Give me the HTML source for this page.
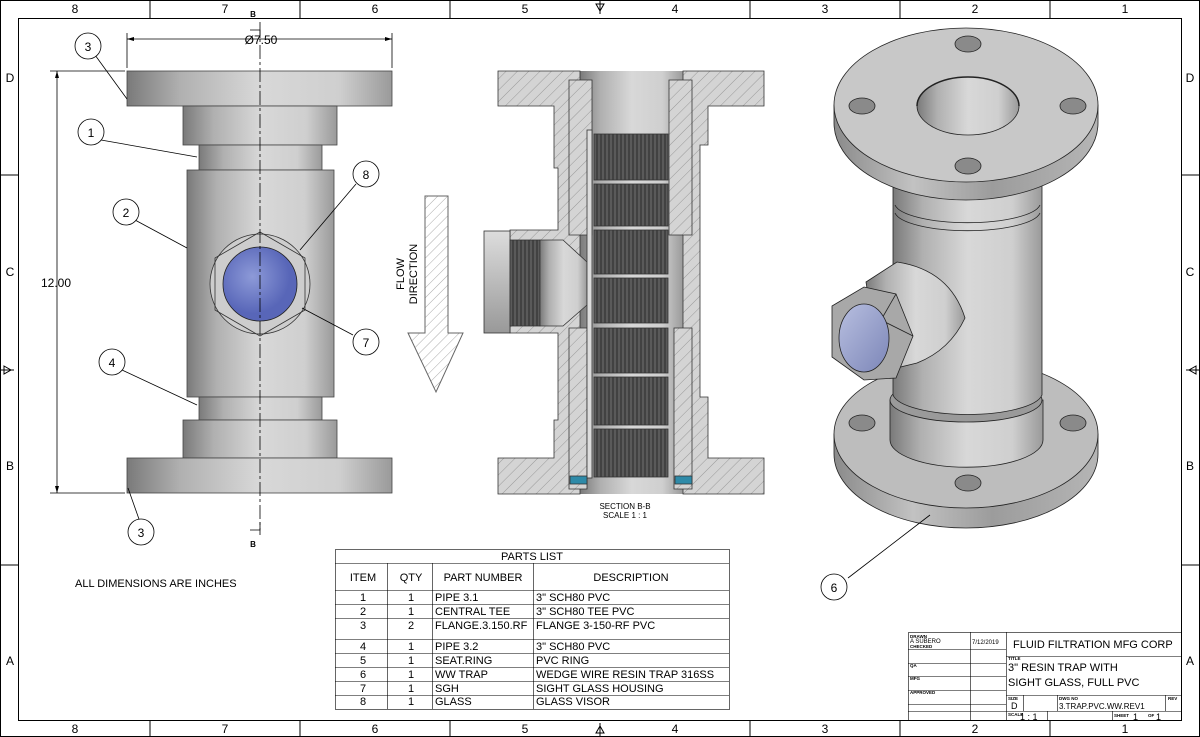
<!DOCTYPE html>
<html><head><meta charset="utf-8"><style>
html,body{margin:0;padding:0;background:#fff}
svg{display:block;font-family:"Liberation Sans",sans-serif}
</style></head><body>
<svg width="1200" height="737" viewBox="0 0 1200 737" xmlns="http://www.w3.org/2000/svg">
<defs>
<linearGradient id="cyl" x1="0" x2="1" y1="0" y2="0">
<stop offset="0" stop-color="#7a7a7a"/><stop offset="0.2" stop-color="#b0b0b0"/><stop offset="0.5" stop-color="#d8d8d8"/><stop offset="0.8" stop-color="#cfcfcf"/><stop offset="1" stop-color="#9a9a9a"/></linearGradient>
<linearGradient id="cyl2" x1="0" x2="1" y1="0" y2="0">
<stop offset="0" stop-color="#8a8a8a"/><stop offset="0.3" stop-color="#c2c2c2"/><stop offset="0.6" stop-color="#9c9c9c"/><stop offset="1" stop-color="#b5b5b5"/></linearGradient>
<pattern id="hatch" width="8" height="8" patternUnits="userSpaceOnUse" patternTransform="rotate(45)"><rect width="8" height="8" fill="#d4d4d4"/><line x1="0" y1="0" x2="0" y2="8" stroke="#999" stroke-width="1"/></pattern>
<pattern id="hatchw" width="7" height="7" patternUnits="userSpaceOnUse" patternTransform="rotate(45)"><rect width="7" height="7" fill="#fff"/><line x1="0" y1="0" x2="0" y2="7" stroke="#aaa" stroke-width="1"/></pattern>
<pattern id="slots" width="4" height="10" patternUnits="userSpaceOnUse"><rect width="4" height="10" fill="#5a5a5a"/><line x1="1" y1="0" x2="1" y2="10" stroke="#2a2a2a" stroke-width="1"/></pattern>
<radialGradient id="glass" cx="0.4" cy="0.4"><stop offset="0" stop-color="#8d9ad8"/><stop offset="1" stop-color="#5866b8"/></radialGradient>
<linearGradient id="glass2" x1="0" y1="0" x2="1" y2="1"><stop offset="0" stop-color="#b8bfe0"/><stop offset="1" stop-color="#7c86b8"/></linearGradient>
<linearGradient id="vert" x1="0" y1="0" x2="0" y2="1"><stop offset="0" stop-color="#ddd"/><stop offset="1" stop-color="#999"/></linearGradient>
</defs>
<rect x="0.5" y="0.5" width="1199" height="736" fill="none" stroke="#000"/>
<rect x="18.5" y="18.5" width="1163" height="702" fill="none" stroke="#000"/>
<g stroke="#000">
<line x1="150" y1="0" x2="150" y2="18"/><line x1="300" y1="0" x2="300" y2="18"/><line x1="450" y1="0" x2="450" y2="18"/><line x1="750" y1="0" x2="750" y2="18"/><line x1="900" y1="0" x2="900" y2="18"/><line x1="1050" y1="0" x2="1050" y2="18"/>
<line x1="150" y1="720" x2="150" y2="737"/><line x1="300" y1="720" x2="300" y2="737"/><line x1="450" y1="720" x2="450" y2="737"/><line x1="750" y1="720" x2="750" y2="737"/><line x1="900" y1="720" x2="900" y2="737"/><line x1="1050" y1="720" x2="1050" y2="737"/>
<line x1="0" y1="175" x2="18" y2="175"/><line x1="0" y1="565" x2="18" y2="565"/><line x1="1182" y1="175" x2="1200" y2="175"/><line x1="1182" y1="565" x2="1200" y2="565"/>
<line x1="600" y1="0" x2="600" y2="14"/><line x1="0" y1="370" x2="14" y2="370"/><line x1="1186" y1="370" x2="1200" y2="370"/><line x1="600" y1="723" x2="600" y2="737"/>
</g>
<g font-size="12" text-anchor="middle">
<text x="75" y="13">8</text><text x="225" y="13">7</text><text x="375" y="13">6</text><text x="525" y="13">5</text><text x="675" y="13">4</text><text x="825" y="13">3</text><text x="975" y="13">2</text><text x="1125" y="13">1</text>
<text x="75" y="733">8</text><text x="225" y="733">7</text><text x="375" y="733">6</text><text x="525" y="733">5</text><text x="675" y="733">4</text><text x="825" y="733">3</text><text x="975" y="733">2</text><text x="1125" y="733">1</text>
<text x="10" y="82">D</text><text x="10" y="276">C</text><text x="10" y="470">B</text><text x="10" y="665">A</text>
<text x="1190" y="82">D</text><text x="1190" y="276">C</text><text x="1190" y="470">B</text><text x="1190" y="665">A</text>
</g>
<g fill="none" stroke="#000"><path d="M596 4 L600 11 L604 4Z"/><path d="M596 733 L600 726 L604 733Z"/><path d="M4 366 L11 370 L4 374Z"/><path d="M1196 366 L1189 370 L1196 374Z"/></g>

<!-- LEFT VIEW -->
<g stroke="#444" stroke-width="0.8">
<rect x="127" y="71" width="265" height="35" fill="url(#cyl)"/>
<rect x="183" y="106" width="154" height="39" fill="url(#cyl)"/>
<rect x="199" y="145" width="123" height="25" fill="url(#cyl)"/>
<rect x="187" y="170" width="147" height="227" fill="url(#cyl)"/>
<rect x="199" y="397" width="123" height="23" fill="url(#cyl)"/>
<rect x="183" y="420" width="154" height="38" fill="url(#cyl)"/>
<rect x="127" y="458" width="265" height="35" fill="url(#cyl)"/>
<circle cx="260" cy="284" r="50" fill="#cdcdcd" stroke="#333"/>
<polygon points="260,232 305,258 305,310 260,336 215,310 215,258" fill="none" stroke="#333"/>
<circle cx="260" cy="284" r="37" fill="url(#glass)" stroke="#222"/>
</g>
<g stroke="#000" stroke-width="0.8" fill="none">
<line x1="260" y1="22" x2="260" y2="535" stroke-dasharray="14,3,3,3"/>
<path d="M250 30 H260 V38 M250 530 H260 V522"/>
<line x1="127" y1="39" x2="392" y2="39"/><line x1="127" y1="33" x2="127" y2="68"/><line x1="392" y1="33" x2="392" y2="68"/>
<line x1="50" y1="71" x2="125" y2="71"/><line x1="50" y1="493" x2="125" y2="493"/><line x1="57" y1="71" x2="57" y2="493"/>
<line x1="95" y1="55" x2="127" y2="99"/><line x1="101" y1="140" x2="197" y2="157"/><line x1="135" y1="220" x2="187" y2="248"/>
<line x1="356" y1="184" x2="300" y2="250"/><line x1="353" y1="335" x2="302" y2="308"/><line x1="122" y1="370" x2="197" y2="405"/><line x1="140" y1="522" x2="128" y2="488"/>
<circle cx="88" cy="46" r="13" fill="#fff"/><circle cx="91" cy="132" r="13" fill="#fff"/><circle cx="126" cy="212" r="13" fill="#fff"/>
<circle cx="366" cy="174" r="13" fill="#fff"/><circle cx="366" cy="342" r="13" fill="#fff"/><circle cx="112" cy="362" r="13" fill="#fff"/><circle cx="141" cy="532" r="13" fill="#fff"/>
</g>
<g fill="#000"><path d="M127 39 l7 -2 v4z"/><path d="M392 39 l-7 -2 v4z"/><path d="M57 71 l-2 7 h4z"/><path d="M57 493 l-2 -7 h4z"/></g>
<g font-size="12" text-anchor="middle">
<text x="88" y="51">3</text><text x="91" y="137">1</text><text x="126" y="217">2</text><text x="366" y="179">8</text><text x="366" y="347">7</text><text x="112" y="367">4</text><text x="141" y="537">3</text>
<text x="261" y="44">Ø7.50</text><text x="56" y="287">12.00</text>
<text x="253" y="17" font-size="8" font-weight="bold">B</text><text x="253" y="547" font-size="8" font-weight="bold">B</text>
</g>
<text x="75" y="587" font-size="11">ALL DIMENSIONS ARE INCHES</text>

<!-- FLOW ARROW -->
<path d="M425 196 H448 V333 H463 L436 392 L408 333 H425Z" fill="url(#hatchw)" stroke="#666"/>
<text transform="translate(404,274) rotate(-90)" font-size="11" text-anchor="middle">FLOW</text>
<text transform="translate(417,274) rotate(-90)" font-size="11" text-anchor="middle">DIRECTION</text>

<!-- SECTION VIEW -->
<g stroke="#333" stroke-width="0.8">
<rect x="580" y="71" width="103" height="423" fill="url(#cyl)" stroke="none"/>
<path d="M498 71 H580 V494 H498 V458 H554 V420 H558 V397 H558 V333 H510 V230 H558 V168 H554 V106 H498Z" fill="url(#hatch)"/>
<path d="M683 71 H764 V106 H708 V145 H700 V168 H700 V397 H708 V420 H708 V458 H764 V494 H683Z" fill="url(#hatch)"/>
<path d="M569 80 H592 V235 H569Z M669 80 H692 V235 H669Z M569 328 H587 V489 H569Z M674 328 H692 V489 H674Z" fill="url(#hatch)"/>
<rect x="484" y="231" width="26" height="102" fill="url(#vert)"/>
<rect x="510" y="240" width="30" height="86" fill="url(#slots)"/>
<path d="M540 240 H563 L587 262 V305 L563 326 H540Z" fill="url(#cyl)"/>
<rect x="587" y="130" width="5" height="348" fill="#ddd"/>
<g fill="url(#slots)"><rect x="594" y="134" width="74" height="46"/><rect x="594" y="184" width="74" height="42"/><rect x="594" y="230" width="74" height="44"/><rect x="594" y="278" width="74" height="45"/><rect x="594" y="328" width="74" height="45"/><rect x="594" y="377" width="74" height="48"/><rect x="594" y="429" width="74" height="48"/></g>
<rect x="570" y="476" width="17" height="8" fill="#2e8aa8"/><rect x="675" y="476" width="17" height="8" fill="#2e8aa8"/>
</g>
<text x="625" y="509" font-size="8" text-anchor="middle">SECTION B-B</text>
<text x="625" y="518" font-size="8" text-anchor="middle">SCALE 1 : 1</text>

<!-- ISO VIEW -->
<g stroke="#222" stroke-width="0.8">
<path d="M834 434 V454 A132 74 0 0 0 1098 454 V434Z" fill="url(#cyl2)"/>
<ellipse cx="966" cy="434" rx="132" ry="74" fill="#bdbdbd"/>
<ellipse cx="862" cy="423" rx="13" ry="8" fill="#8a8a8a"/><ellipse cx="1073" cy="423" rx="13" ry="8" fill="#8a8a8a"/><ellipse cx="968" cy="483" rx="13" ry="8" fill="#8a8a8a"/>
<path d="M890 400 V440 A76 27 0 0 0 1043 440 V400Z" fill="url(#cyl)"/>
<ellipse cx="966" cy="400" rx="76" ry="22" fill="#9a9a9a"/>
<path d="M893 160 V395 A75 22 0 0 0 1042 395 V160Z" fill="url(#cyl)"/>
<path d="M895 205 A73 20 0 0 0 1040 205" fill="none"/>
<path d="M895 213 A73 20 0 0 0 1040 213" fill="none"/>
<path d="M834 105 V123 A132 77 0 0 0 1098 123 V105Z" fill="url(#cyl2)"/>
<ellipse cx="966" cy="105" rx="132" ry="77" fill="#c8c8c8"/>
<ellipse cx="968" cy="106" rx="51" ry="29" fill="url(#cyl)"/>
<path d="M917 106 A51 29 0 0 1 1019 106" fill="none" stroke="#222" stroke-width="1.5"/>
<ellipse cx="968" cy="44" rx="13" ry="8" fill="#8a8a8a"/><ellipse cx="862" cy="106" rx="13" ry="8" fill="#8a8a8a"/><ellipse cx="1073" cy="106" rx="13" ry="8" fill="#8a8a8a"/><ellipse cx="968" cy="166" rx="13" ry="8" fill="#8a8a8a"/>
<path d="M866 282 L897 262 Q950 270 965 318 Q950 350 917 363 L880 372Z" fill="url(#cyl)"/>
<polygon points="832,306 864,287 896,294 913,336 896,378 864,380 832,357" fill="#a8a8a8"/>
<line x1="896" y1="294" x2="881" y2="320"/><line x1="881" y1="320" x2="913" y2="336"/>
<ellipse cx="864" cy="338" rx="25" ry="34" fill="url(#glass2)"/>
</g>
<line x1="848" y1="578" x2="930" y2="515" stroke="#000" stroke-width="0.8"/>
<circle cx="834" cy="587" r="13" fill="#fff" stroke="#000" stroke-width="0.8"/>
<text x="834" y="592" font-size="12" text-anchor="middle">6</text>

<!-- PARTS LIST -->
<g stroke="#000" stroke-width="0.6" fill="none">
<rect x="335.5" y="549.5" width="394" height="160"/>
<line x1="335" y1="563.5" x2="729" y2="563.5"/><line x1="335" y1="590.5" x2="729" y2="590.5"/>
<line x1="335" y1="604.5" x2="729" y2="604.5"/><line x1="335" y1="618.5" x2="729" y2="618.5"/><line x1="335" y1="639.5" x2="729" y2="639.5"/><line x1="335" y1="653.5" x2="729" y2="653.5"/><line x1="335" y1="667.5" x2="729" y2="667.5"/><line x1="335" y1="681.5" x2="729" y2="681.5"/><line x1="335" y1="695.5" x2="729" y2="695.5"/>
<line x1="387.5" y1="563" x2="387.5" y2="709"/><line x1="432.5" y1="563" x2="432.5" y2="709"/><line x1="533.5" y1="563" x2="533.5" y2="709"/>
</g>
<g font-size="11">
<text x="532" y="560" text-anchor="middle">PARTS LIST</text>
<text x="363" y="581" text-anchor="middle">ITEM</text><text x="411" y="581" text-anchor="middle">QTY</text><text x="483" y="581" text-anchor="middle">PART NUMBER</text><text x="631" y="581" text-anchor="middle">DESCRIPTION</text>
<g text-anchor="middle"><text x="363" y="601">1</text><text x="411" y="601">1</text><text x="363" y="615">2</text><text x="411" y="615">1</text><text x="363" y="629">3</text><text x="411" y="629">2</text><text x="363" y="650">4</text><text x="411" y="650">1</text><text x="363" y="664">5</text><text x="411" y="664">1</text><text x="363" y="678">6</text><text x="411" y="678">1</text><text x="363" y="692">7</text><text x="411" y="692">1</text><text x="363" y="705">8</text><text x="411" y="705">1</text></g>
<text x="435" y="601">PIPE 3.1</text><text x="536" y="601">3" SCH80 PVC</text>
<text x="435" y="615">CENTRAL TEE</text><text x="536" y="615">3" SCH80 TEE PVC</text>
<text x="435" y="629">FLANGE.3.150.RF</text><text x="536" y="629">FLANGE 3-150-RF PVC</text>
<text x="435" y="650">PIPE 3.2</text><text x="536" y="650">3" SCH80 PVC</text>
<text x="435" y="664">SEAT.RING</text><text x="536" y="664">PVC RING</text>
<text x="435" y="678">WW TRAP</text><text x="536" y="678">WEDGE WIRE RESIN TRAP 316SS</text>
<text x="435" y="692">SGH</text><text x="536" y="692">SIGHT GLASS HOUSING</text>
<text x="435" y="705">GLASS</text><text x="536" y="705">GLASS VISOR</text>
</g>

<!-- TITLE BLOCK -->
<g stroke="#000" stroke-width="0.6" fill="none">
<rect x="908.5" y="632.5" width="273" height="88"/>
<line x1="970.5" y1="632" x2="970.5" y2="720"/><line x1="1006.5" y1="632" x2="1006.5" y2="720"/>
<line x1="908" y1="649.5" x2="1006" y2="649.5"/><line x1="908" y1="663.5" x2="1006" y2="663.5"/><line x1="908" y1="676.5" x2="1006" y2="676.5"/><line x1="908" y1="690.5" x2="1006" y2="690.5"/><line x1="908" y1="704.5" x2="1006" y2="704.5"/><line x1="908" y1="711.5" x2="1006" y2="711.5"/>
<line x1="1006" y1="656.5" x2="1182" y2="656.5"/><line x1="1006" y1="695.5" x2="1182" y2="695.5"/><line x1="1006" y1="711.5" x2="1182" y2="711.5"/>
<line x1="1023.5" y1="695" x2="1023.5" y2="711"/><line x1="1057.5" y1="695" x2="1057.5" y2="711"/><line x1="1165.5" y1="695" x2="1165.5" y2="711"/>
<line x1="1047.5" y1="711" x2="1047.5" y2="720"/><line x1="1112.5" y1="711" x2="1112.5" y2="720"/>
</g>
<g font-size="4.5" font-weight="bold">
<text x="910" y="638">DRAWN</text><text x="910" y="643" font-size="6" font-weight="normal">A SUBERO</text><text x="910" y="648">CHECKED</text>
<text x="910" y="667">QA</text><text x="910" y="680">MFG</text><text x="910" y="694">APPROVED</text>
<text x="972" y="644" font-size="6" font-weight="normal">7/12/2019</text>
<text x="1008" y="660">TITLE</text><text x="1008" y="700">SIZE</text><text x="1059" y="700">DWG NO</text><text x="1168" y="700">REV</text>
<text x="1008" y="716">SCALE</text><text x="1114" y="717">SHEET</text><text x="1148" y="717">OF</text>
</g>
<text x="1013" y="648" font-size="11">FLUID FILTRATION MFG CORP</text>
<text x="1008" y="671" font-size="11">3" RESIN TRAP WITH</text>
<text x="1008" y="686" font-size="11">SIGHT GLASS, FULL PVC</text>
<text x="1011" y="709" font-size="9">D</text>
<text x="1059" y="709" font-size="8">3.TRAP.PVC.WW.REV1</text>
<text x="1020" y="720" font-size="9">1 : 1</text>
<text x="1133" y="720" font-size="9">1</text><text x="1156" y="720" font-size="9">1</text>
</svg>
</body></html>
